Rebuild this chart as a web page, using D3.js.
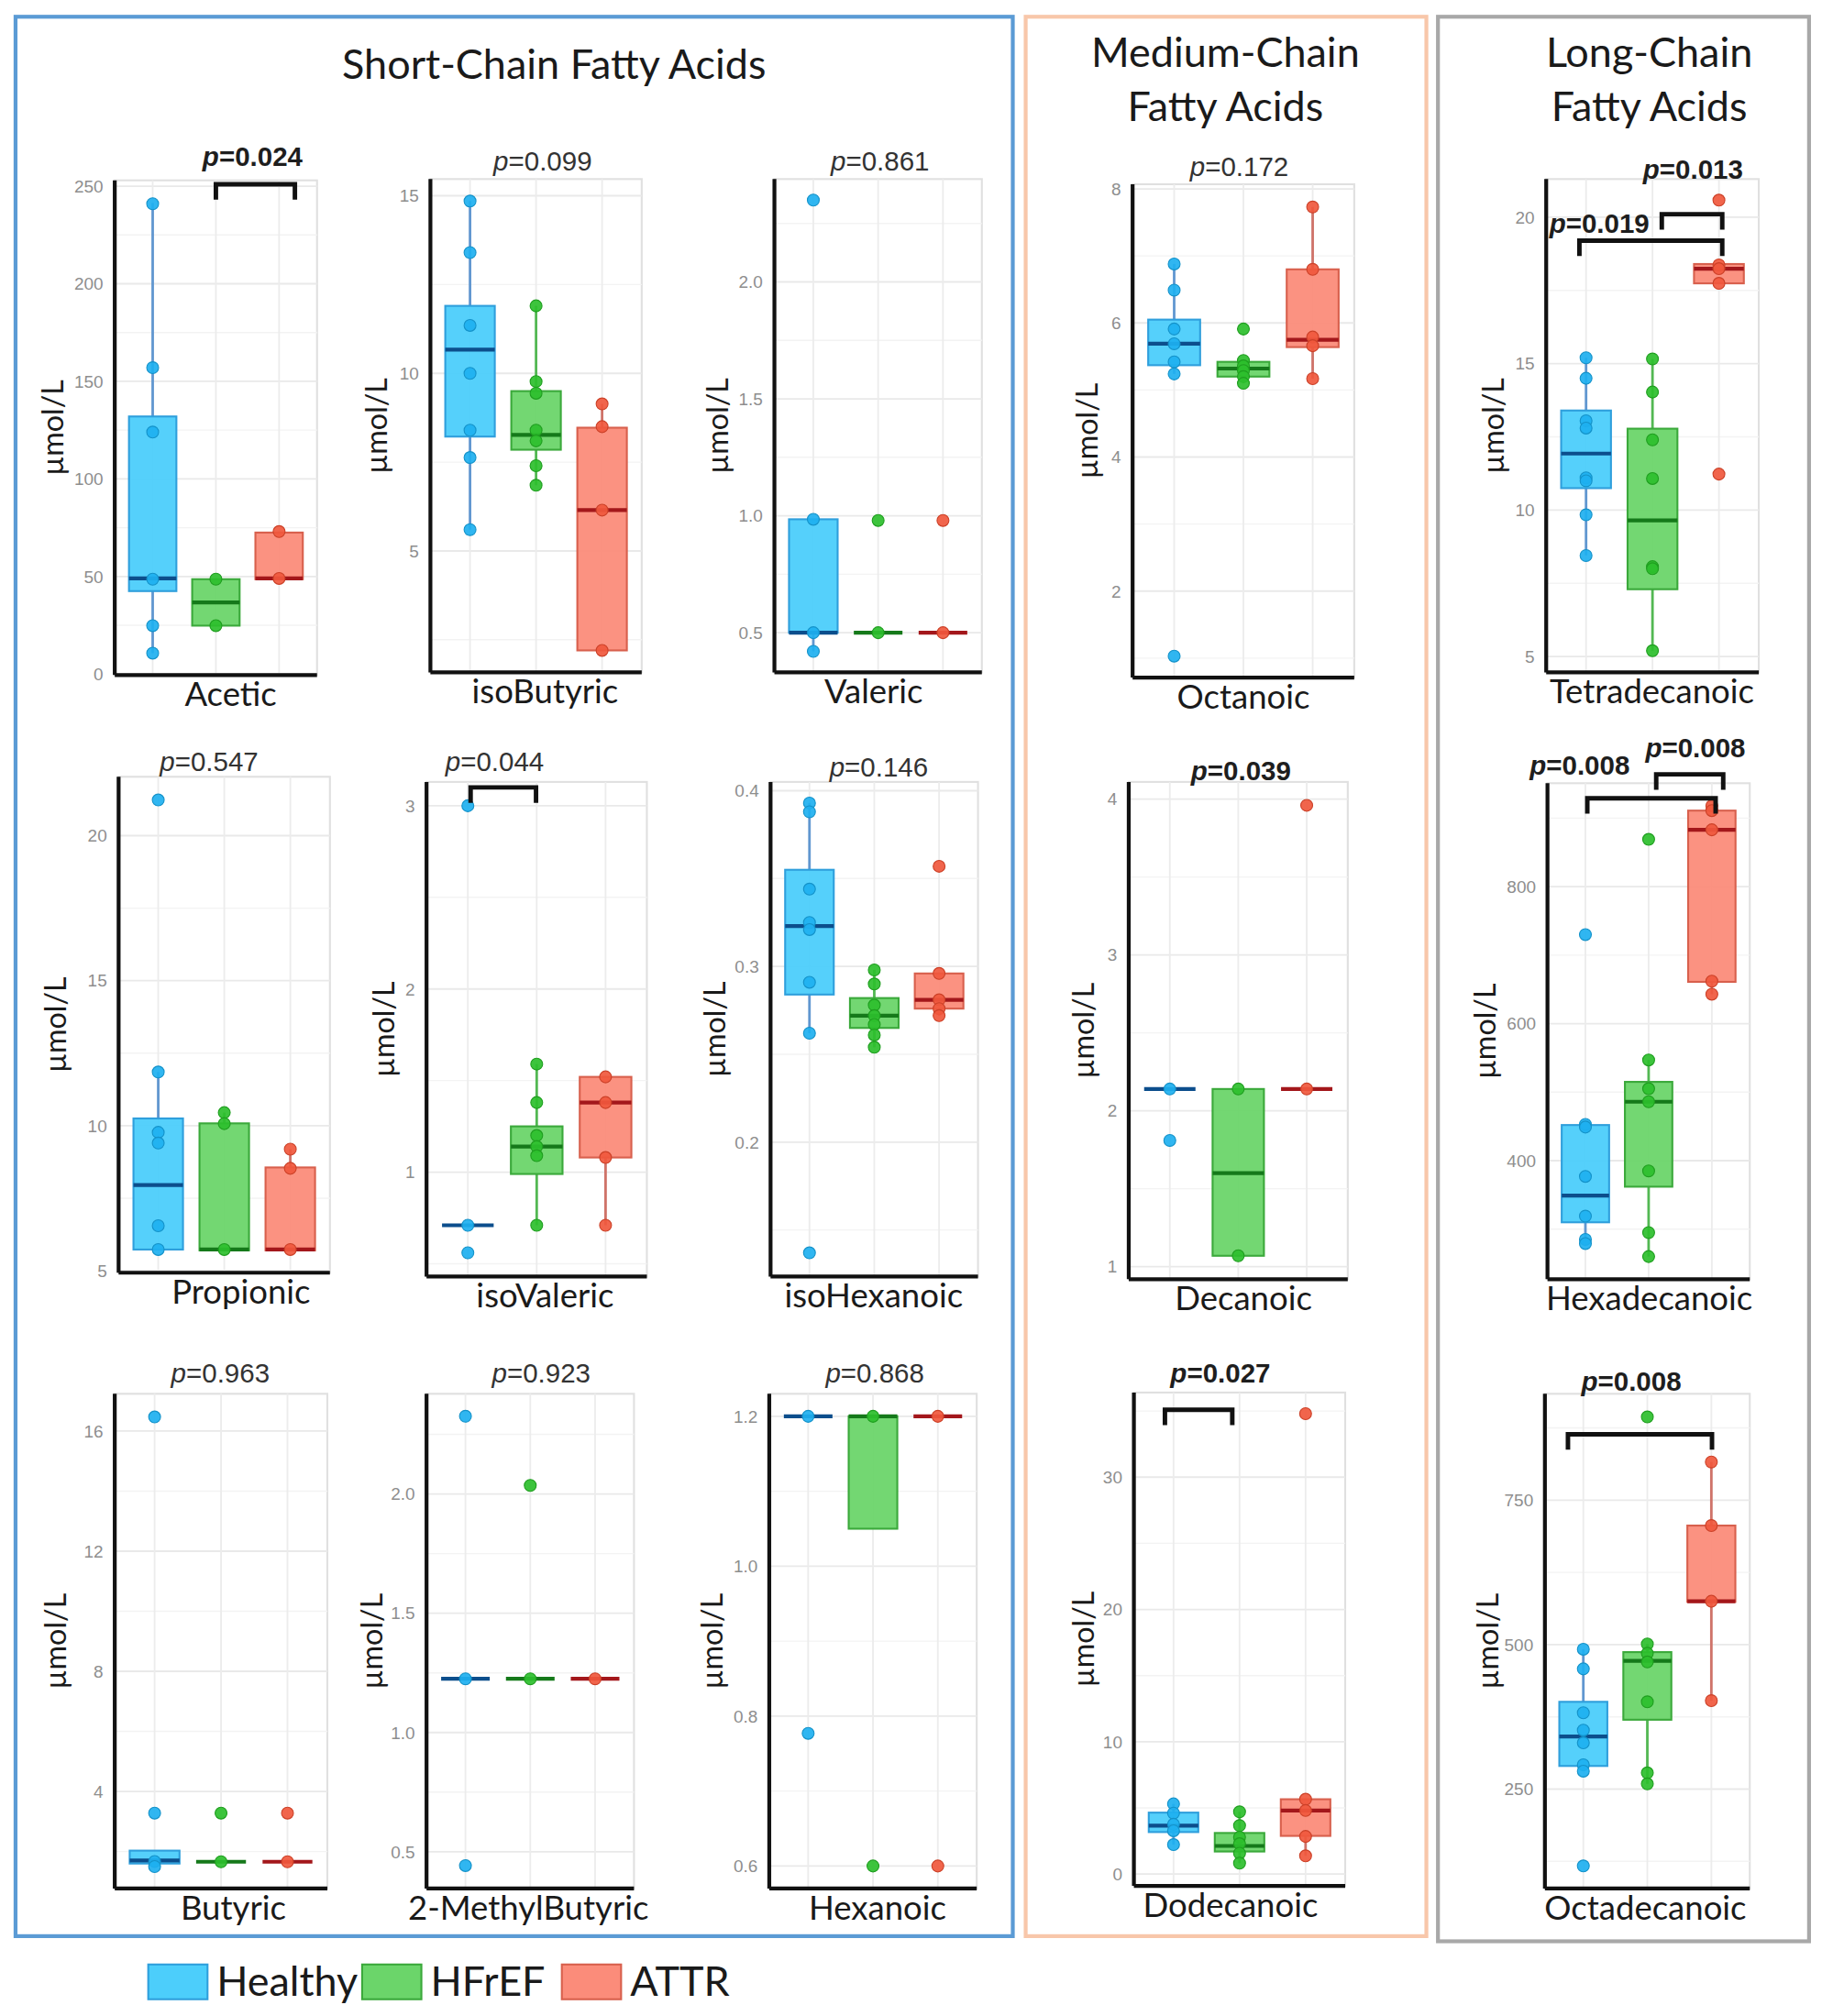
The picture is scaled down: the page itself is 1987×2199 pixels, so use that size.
<!DOCTYPE html>
<html>
<head>
<meta charset="utf-8">
<script src="https://cdn.jsdelivr.net/npm/d3@7"></script>
<style>
  body { margin: 0; background: #fff; }
  svg { display: block; }
</style>
</head>
<body>
<div id="chart"></div>
<script>
// ---- data ----
const groups = ["Healthy", "HFrEF", "ATTR"];

const acids = [
  "Acetic", "isoButyric", "Valeric", "Octanoic", "Tetradecanoic",
  "Propionic", "isoValeric", "isoHexanoic", "Decanoic", "Hexadecanoic",
  "Butyric", "2-MethylButyric", "Hexanoic", "Dodecanoic", "Octadecanoic"
];

// p-values shown above each panel (bold = significant)
const pValues = [
  ["0.024"], ["0.099"], ["0.861"], ["0.172"], ["0.013", "0.019"],
  ["0.547"], ["0.044"], ["0.146"], ["0.039"], ["0.008", "0.008"],
  ["0.963"], ["0.923"], ["0.868"], ["0.027"], ["0.008"]
];
const pBold = [
  [true], [false], [false], [false], [true, true],
  [false], [false], [false], [true], [true, true],
  [false], [false], [false], [true], [true]
];

const yTicks = [
  [0, 50, 100, 150, 200, 250], [5, 10, 15], [0.5, 1.0, 1.5, 2.0], [2, 4, 6, 8], [5, 10, 15, 20],
  [5, 10, 15, 20], [1, 2, 3], [0.2, 0.3, 0.4], [1, 2, 3, 4], [400, 600, 800],
  [4, 8, 12, 16], [0.5, 1.0, 1.5, 2.0], [0.6, 0.8, 1.0, 1.2], [0, 10, 20, 30], [250, 500, 750]
];

// box statistics per acid: [Healthy, HFrEF, ATTR]
const whiskerLow = [
  [10.7, 24.8, 48.6], [5.6, 6.85, 2.2], [0.42, 0.5, 0.5], [5.24, 5.1, 5.17], [8.45, 5.2, 17.74],
  [5.73, 5.7, 5.7], [0.71, 0.71, 0.71], [0.262, 0.254, 0.272], [2.14, 1.07, 2.14], [279, 260, 643],
  [1.5, 1.66, 1.66], [1.225, 1.225, 1.225], [1.2, 1.05, 1.2], [2.22, 0.82, 1.37], [281, 259, 403]
];
const q1 = [
  [42.5, 24.8, 48.6], [8.22, 7.85, 2.2], [0.5, 0.5, 0.5], [5.37, 5.2, 5.64], [10.75, 7.3, 17.74],
  [5.73, 5.7, 5.7], [0.71, 0.99, 1.08], [0.284, 0.265, 0.276], [2.14, 1.07, 2.14], [310, 362, 661],
  [1.6, 1.66, 1.66], [1.225, 1.225, 1.225], [1.2, 1.05, 1.2], [3.17, 1.7, 2.88], [290, 370, 574]
];
const median = [
  [49, 36.7, 49], [10.67, 8.27, 6.15], [0.5, 0.5, 0.5], [5.69, 5.32, 5.75], [11.93, 9.65, 18.24],
  [7.95, 5.73, 5.73], [0.71, 1.14, 1.38], [0.323, 0.272, 0.281], [2.14, 1.6, 2.14], [349, 486, 883],
  [1.7, 1.66, 1.66], [1.225, 1.225, 1.225], [1.2, 1.2, 1.2], [3.66, 2.12, 4.8], [341, 472, 575]
];
const q3 = [
  [132, 48.6, 72.5], [11.9, 9.5, 8.47], [0.985, 0.5, 0.5], [6.05, 5.42, 6.8], [13.4, 12.78, 18.4],
  [10.25, 10.08, 8.56], [0.71, 1.25, 1.52], [0.355, 0.282, 0.296], [2.14, 2.14, 2.14], [452, 515, 911],
  [2.03, 1.66, 1.66], [1.225, 1.225, 1.225], [1.2, 1.2, 1.2], [4.64, 3.1, 5.65], [401, 487, 706]
];
const whiskerHigh = [
  [241.4, 48.6, 73], [14.85, 11.9, 9.14], [0.985, 0.5, 0.5], [6.88, 5.44, 7.73], [15.2, 15.16, 18.4],
  [11.85, 10.45, 9.19], [0.71, 1.59, 1.52], [0.393, 0.298, 0.296], [2.14, 2.14, 2.14], [453, 547, 918],
  [2.03, 1.66, 1.66], [1.225, 1.225, 1.225], [1.2, 1.2, 1.2], [5.3, 4.7, 5.65], [492, 501, 816]
];

// individual observations per acid: [Healthy, HFrEF, ATTR]
const points = [
  [[241, 157, 124, 48.6, 24.8, 10.7], [48.6, 24.8], [73, 49]],
  [[14.85, 13.4, 11.35, 10.0, 8.4, 7.63, 5.6], [11.9, 9.77, 9.44, 8.4, 8.1, 7.4, 6.85], [9.14, 8.5, 6.15, 2.2]],
  [[2.35, 0.985, 0.5, 0.42], [0.98, 0.5], [0.98, 0.5]],
  [[6.88, 6.49, 5.91, 5.69, 5.42, 5.24, 1.03], [5.91, 5.44, 5.36, 5.29, 5.2, 5.1], [7.73, 6.8, 5.79, 5.66, 5.17]],
  [[15.2, 14.5, 13.05, 12.8, 11.1, 11.0, 9.84, 8.45], [15.16, 14.03, 12.4, 11.08, 8.07, 8.0, 5.2], [20.58, 18.37, 18.24, 17.74, 11.23]],
  [[21.23, 11.85, 9.77, 9.4, 6.55, 5.73], [10.45, 10.07, 5.73], [9.19, 8.53, 5.73]],
  [[3.0, 0.71, 0.56], [1.59, 1.38, 1.2, 1.14, 1.09, 0.71], [1.52, 1.38, 1.08, 0.71]],
  [[0.393, 0.388, 0.344, 0.325, 0.321, 0.291, 0.262, 0.137], [0.298, 0.29, 0.278, 0.272, 0.267, 0.261, 0.254], [0.357, 0.296, 0.281, 0.276, 0.272]],
  [[2.14, 1.81], [2.14, 1.07], [3.96, 2.14]],
  [[730, 453, 449, 377, 319, 285, 279], [869, 547, 505, 486, 385, 295, 260], [918, 911, 883, 662, 643]],
  [[16.47, 3.28, 1.67, 1.5], [3.28, 1.66], [3.28, 1.66]],
  [[2.326, 1.225, 0.442], [2.036, 1.225], [1.225]],
  [[1.2, 0.777], [1.2, 0.6], [1.2, 0.6]],
  [[5.3, 4.6, 3.76, 3.27, 2.22], [4.7, 3.66, 2.78, 2.29, 1.57, 0.82], [34.8, 5.65, 4.8, 2.84, 1.37]],
  [[492, 458, 382, 352, 330, 292, 281, 117], [894, 501, 485, 470, 401, 278, 259], [816, 706, 575, 403]]
];

// significance brackets: panel, group span (in group units) and level (in data units)
const brackets = [
  { panel: 0, from: 2.0, to: 3.25, at: 251 },
  { panel: 4, from: 0.9, to: 3.05, at: 19.2 },
  { panel: 4, from: 2.14, to: 3.05, at: 20.1 },
  { panel: 6, from: 1.04, to: 1.99, at: 3.1 },
  { panel: 9, from: 1.03, to: 3.06, at: 929 },
  { panel: 9, from: 2.12, to: 3.18, at: 964 },
  { panel: 13, from: 0.87, to: 1.89, at: 35.1 },
  { panel: 14, from: 0.76, to: 3.01, at: 864 }
];

// ---- layout ----
const W = 1414, H = 1565;

const panels = [
  { L: 89,   R: 246,  T: 140,  B: 524,  ext: [-0.5, 253],     ylab: 41,   xlab: 179 },
  { L: 334,  R: 498,  T: 139,  B: 522,  ext: [1.58, 15.47],   ylab: 292,  xlab: 423 },
  { L: 601,  R: 762,  T: 139,  B: 522,  ext: [0.33, 2.44],    ylab: 557,  xlab: 678 },
  { L: 879,  R: 1051, T: 143,  B: 526,  ext: [0.71, 8.07],    ylab: 844,  xlab: 965 },
  { L: 1200, R: 1365, T: 139,  B: 522,  ext: [4.46, 21.3],    ylab: 1159, xlab: 1282 },
  { L: 92,   R: 256,  T: 603,  B: 988,  ext: [4.93, 22.03],   ylab: 43,   xlab: 187 },
  { L: 331,  R: 502,  T: 607,  B: 991,  ext: [0.43, 3.13],    ylab: 298,  xlab: 423 },
  { L: 598,  R: 759,  T: 607,  B: 991,  ext: [0.1235, 0.405], ylab: 555,  xlab: 678 },
  { L: 876,  R: 1046, T: 607,  B: 993,  ext: [0.92, 4.11],    ylab: 841,  xlab: 965 },
  { L: 1201, R: 1358, T: 608,  B: 993,  ext: [227, 951],      ylab: 1153, xlab: 1280 },
  { L: 89,   R: 254,  T: 1082, B: 1466, ext: [0.77, 17.24],   ylab: 43,   xlab: 181 },
  { L: 331,  R: 492,  T: 1082, B: 1466, ext: [0.346, 2.42],   ylab: 289,  xlab: 410 },
  { L: 597,  R: 758,  T: 1082, B: 1466, ext: [0.57, 1.23],    ylab: 553,  xlab: 681 },
  { L: 880,  R: 1044, T: 1081, B: 1464, ext: [-0.9, 36.4],    ylab: 841,  xlab: 955 },
  { L: 1199, R: 1358, T: 1082, B: 1466, ext: [78, 934],       ylab: 1155, xlab: 1277 }
];

// p-label anchor: [x in group units, baseline offset above panel top]
const pPos = [
  [[2.58, 11.5]], [[2.10, 6.5]], [[2.03, 6.5]], [[1.94, 6.5]], [[2.61, 0], [1.2, -41.5]],
  [[1.77, 4.5]], [[1.39, 8.5]], [[2.07, 4.5]], [[2.04, 1.5]], [[0.91, 6.5], [2.74, 20.5]],
  [[1.99, 8.5]], [[2.17, 8.5]], [[2.03, 8.5]], [[1.71, 7.5]], [[1.75, 2.5]]
];

const sections = [
  { lines: ["Short-Chain Fatty Acids"], x: 430, y: 61, box: [12, 13, 786, 1503], color: "#5b9bd5" },
  { lines: ["Medium-Chain", "Fatty Acids"], x: 951, y: 52, box: [796, 13, 1107, 1503], color: "#f8c7aa" },
  { lines: ["Long-Chain", "Fatty Acids"], x: 1280, y: 52, box: [1116, 13, 1404, 1507], color: "#a8a8a8" }
];

const fillColor = ["#4ccefb", "#6bd56a", "#fb8c7a"];
const boxStroke = ["#2f9fdc", "#3ba93b", "#d8604d"];
const medColor = ["#0c4e8c", "#15791a", "#a3171b"];
const whiskColor = ["#6197d0", "#53b853", "#cf7369"];
const ptColor = ["#1eb0f0", "#2dbf2d", "#f0583d"];
const ptStroke = ["#1492c9", "#1f9e1f", "#cc4128"];

const legendX = [115, 281, 436];

const textFont = "Lato, 'Open Sans', sans-serif";
const numFont = "'Liberation Sans', Arial, sans-serif";

const svg = d3.select("#chart").append("svg")
  .attr("width", 1987)
  .attr("height", 2199)
  .attr("viewBox", `0 0 ${W} ${H}`)
  .attr("font-family", textFont);

svg.append("rect").attr("width", W).attr("height", H).attr("fill", "#fff");

// section frames and titles
sections.forEach(s => {
  const [x0, y0, x1, y1] = s.box;
  svg.append("rect")
    .attr("x", x0).attr("y", y0)
    .attr("width", x1 - x0).attr("height", y1 - y0)
    .attr("fill", "none")
    .attr("stroke", s.color)
    .attr("stroke-width", 3);
  s.lines.forEach((line, k) => {
    svg.append("text")
      .attr("x", s.x).attr("y", s.y + k * 42)
      .attr("text-anchor", "middle")
      .attr("font-size", 32)
      .attr("fill", "#1a1a1a")
      .text(line);
  });
});

acids.forEach((name, i) => {
  const p = panels[i];
  const g = svg.append("g").attr("class", "panel");
  const x = d3.scaleLinear().domain([0.4, 3.6]).range([p.L, p.R]);
  const y = d3.scaleLinear().domain(p.ext).range([p.B, p.T]);

  const ticks = yTicks[i];
  const step = ticks[1] - ticks[0];
  const minor = d3.range(ticks[0] - step / 2, p.ext[1], step).filter(v => v > p.ext[0]);

  // panel background
  g.append("rect")
    .attr("x", p.L).attr("y", p.T)
    .attr("width", p.R - p.L).attr("height", p.B - p.T)
    .attr("fill", "#fff")
    .attr("stroke", "#e0e0e0")
    .attr("stroke-width", 1.5);

  g.selectAll("line.minor").data(minor).join("line")
    .attr("class", "minor")
    .attr("x1", p.L).attr("x2", p.R)
    .attr("y1", d => y(d)).attr("y2", d => y(d))
    .attr("stroke", "#f3f3f3").attr("stroke-width", 1);

  g.selectAll("line.major").data(ticks).join("line")
    .attr("class", "major")
    .attr("x1", p.L).attr("x2", p.R)
    .attr("y1", d => y(d)).attr("y2", d => y(d))
    .attr("stroke", "#e9e9e9").attr("stroke-width", 1.3);

  g.selectAll("line.vgrid").data([1, 2, 3]).join("line")
    .attr("class", "vgrid")
    .attr("x1", d => x(d)).attr("x2", d => x(d))
    .attr("y1", p.T).attr("y2", p.B)
    .attr("stroke", "#ececec").attr("stroke-width", 1.3);

  // tick labels
  const fmt = step < 1 ? d3.format(".1f") : d3.format("d");
  g.append("g")
    .attr("transform", `translate(${p.L},0)`)
    .call(d3.axisLeft(y).tickValues(ticks).tickSize(0).tickPadding(9).tickFormat(fmt))
    .call(a => a.select(".domain").remove())
    .call(a => a.selectAll("text")
      .attr("fill", "#8e8e8e")
      .attr("font-family", numFont)
      .attr("font-size", 13.5));

  const stats = groups.map((grp, j) => ({
    j,
    lo: whiskerLow[i][j], q1: q1[i][j], med: median[i][j], q3: q3[i][j], hi: whiskerHigh[i][j]
  }));
  const half = x(1.375) - x(1);

  // whiskers
  g.selectAll("line.wup").data(stats).join("line")
    .attr("class", "wup")
    .attr("x1", d => x(d.j + 1)).attr("x2", d => x(d.j + 1))
    .attr("y1", d => y(d.q3)).attr("y2", d => y(d.hi))
    .attr("stroke", d => whiskColor[d.j]).attr("stroke-width", 2);
  g.selectAll("line.wlo").data(stats).join("line")
    .attr("class", "wlo")
    .attr("x1", d => x(d.j + 1)).attr("x2", d => x(d.j + 1))
    .attr("y1", d => y(d.q1)).attr("y2", d => y(d.lo))
    .attr("stroke", d => whiskColor[d.j]).attr("stroke-width", 2);

  // boxes
  g.selectAll("rect.box").data(stats).join("rect")
    .attr("class", "box")
    .attr("x", d => x(d.j + 1) - half)
    .attr("width", half * 2)
    .attr("y", d => y(d.q3))
    .attr("height", d => Math.max(0, y(d.q1) - y(d.q3)))
    .attr("fill", d => fillColor[d.j])
    .attr("fill-opacity", 0.95)
    .attr("stroke", d => boxStroke[d.j])
    .attr("stroke-width", 1.5);

  g.selectAll("line.med").data(stats).join("line")
    .attr("class", "med")
    .attr("x1", d => x(d.j + 1) - half).attr("x2", d => x(d.j + 1) + half)
    .attr("y1", d => y(d.med)).attr("y2", d => y(d.med))
    .attr("stroke", d => medColor[d.j]).attr("stroke-width", 3);

  // observations
  const obs = points[i].flatMap((vals, j) => vals.map(v => ({ j, v })));
  g.selectAll("circle.pt").data(obs).join("circle")
    .attr("class", "pt")
    .attr("cx", d => x(d.j + 1))
    .attr("cy", d => y(d.v))
    .attr("r", 4.6)
    .attr("fill", d => ptColor[d.j])
    .attr("fill-opacity", 0.92)
    .attr("stroke", d => ptStroke[d.j])
    .attr("stroke-width", 0.8);

  // black axis lines
  g.append("line")
    .attr("x1", p.L).attr("x2", p.L).attr("y1", p.T).attr("y2", p.B)
    .attr("stroke", "#111").attr("stroke-width", 3);
  g.append("line")
    .attr("x1", p.L).attr("x2", p.R).attr("y1", p.B).attr("y2", p.B)
    .attr("stroke", "#111").attr("stroke-width", 3);

  // brackets
  g.selectAll("path.bracket").data(brackets.filter(b => b.panel === i)).join("path")
    .attr("class", "bracket")
    .attr("d", b => {
      const yy = y(b.at);
      return `M${x(b.from)},${yy + 12}V${yy}H${x(b.to)}V${yy + 12}`;
    })
    .attr("fill", "none")
    .attr("stroke", "#111")
    .attr("stroke-width", 3.5);

  // p-values
  pValues[i].forEach((val, k) => {
    const [gx, off] = pPos[i][k];
    const t = g.append("text")
      .attr("x", x(gx))
      .attr("y", p.T - off)
      .attr("text-anchor", "middle")
      .attr("font-family", numFont)
      .attr("font-size", 21)
      .attr("font-weight", pBold[i][k] ? "bold" : "normal")
      .attr("fill", pBold[i][k] ? "#1e1e1e" : "#333");
    t.append("tspan").attr("font-style", "italic").text("p");
    t.append("tspan").text("=" + val);
  });

  // y label
  const cy = (p.T + p.B) / 2;
  g.append("text")
    .attr("transform", `translate(${p.ylab},${cy}) rotate(-90)`)
    .attr("text-anchor", "middle")
    .attr("dy", "0.35em")
    .attr("font-size", 23)
    .attr("fill", "#1a1a1a")
    .text("µmol/L");

  // category label
  g.append("text")
    .attr("x", p.xlab)
    .attr("y", p.B + 24)
    .attr("text-anchor", "middle")
    .attr("font-size", 26)
    .attr("fill", "#1a1a1a")
    .text(name);
});

// legend
const legend = svg.append("g").attr("class", "legend");
legend.selectAll("rect").data(groups).join("rect")
  .attr("x", (d, j) => legendX[j])
  .attr("y", 1525)
  .attr("width", 46).attr("height", 27)
  .attr("fill", (d, j) => fillColor[j])
  .attr("stroke", (d, j) => boxStroke[j])
  .attr("stroke-width", 1.5);
legend.selectAll("text").data(groups).join("text")
  .attr("x", (d, j) => legendX[j] + 53)
  .attr("y", 1549)
  .attr("font-size", 32)
  .attr("fill", "#1a1a1a")
  .text(d => d);
</script>
</body>
</html>
